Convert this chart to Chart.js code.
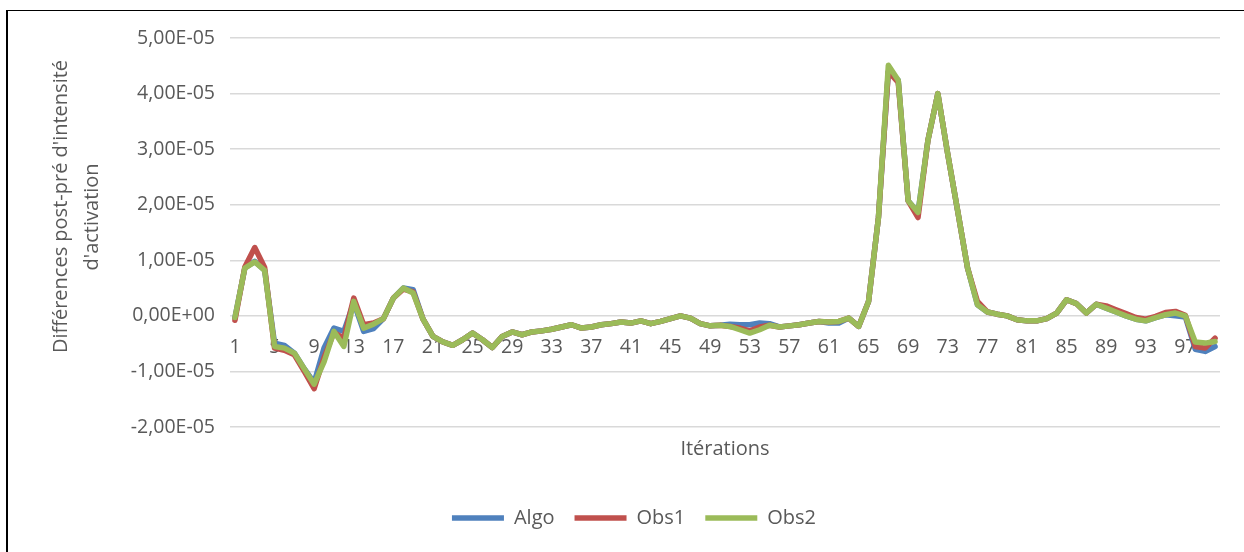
<!DOCTYPE html>
<html lang="fr">
<head>
<meta charset="UTF-8">
<title>Différences post-pré</title>
<script src="https://cdn.jsdelivr.net/npm/chart.js@4"></script>
<style>
    html, body { margin: 0; padding: 0; background: #fff; }
    #wrap { position: relative; width: 1244px; height: 552px; overflow: hidden; }
    #cadre { position: absolute; left: 6px; top: 10px; width: 1300px; height: 700px;
             border-left: 2px solid #000; border-top: 1px solid #000; }
    #zone { position: absolute; left: 0; top: 0; width: 1268px; height: 552px; }
</style>
</head>
<body>
<div id="wrap">
    <div id="cadre"></div>
    <div id="zone"><canvas id="graphe"></canvas></div>
</div>
<script>
// valeurs en unités de 1E-06
const algo = [
    -0.3, 8.6, 9.8, 8.2, -4.9, -5.3, -6.7, -9.5, -12.0, -5.8,
    -2.2, -2.8, 2.4, -2.8, -2.3, -0.5, 3.2, 5.0, 4.7, -0.6,
    -3.7, -4.7, -5.3, -4.3, -3.1, -4.3, -5.7, -3.7, -2.9, -3.4,
    -2.9, -2.7, -2.4, -2.0, -1.6, -2.2, -2.0, -1.6, -1.4, -1.1,
    -1.3, -0.9, -1.4, -1.0, -0.5, 0.0, -0.4, -1.4, -1.8, -1.7,
    -1.5, -1.6, -1.6, -1.3, -1.4, -2.0, -1.8, -1.6, -1.3, -1.0,
    -1.3, -1.3, -0.4, -1.9, 2.6, 17.7, 44.0, 42.4, 20.7, 18.6,
    31.6, 40.0, 29.1, 18.9, 8.6, 2.0, 0.7, 0.3, 0.0, -0.7,
    -0.9, -0.9, -0.5, 0.5, 2.9, 2.2, 0.5, 2.1, 1.4, 0.7,
    0.0, -0.6, -0.9, -0.3, 0.2, 0.0, -0.2, -6.0, -6.4, -5.5
];
const obs1 = [
    -0.8, 8.8, 12.3, 8.7, -5.8, -6.2, -7.0, -10.0, -13.1, -7.5,
    -3.0, -4.0, 3.2, -1.6, -1.3, -0.5, 3.2, 4.8, 4.3, -0.6,
    -3.7, -4.7, -5.3, -4.3, -3.1, -4.3, -5.7, -3.7, -2.9, -3.4,
    -2.9, -2.7, -2.4, -2.0, -1.6, -2.2, -2.0, -1.6, -1.4, -1.1,
    -1.3, -0.9, -1.4, -1.0, -0.5, 0.0, -0.4, -1.4, -1.8, -1.7,
    -1.9, -2.2, -2.7, -2.0, -1.7, -2.0, -1.8, -1.6, -1.3, -1.0,
    -1.1, -1.0, -0.4, -1.9, 2.6, 17.7, 44.0, 42.0, 20.7, 17.7,
    31.6, 40.0, 29.1, 18.9, 8.6, 2.6, 0.7, 0.3, 0.0, -0.7,
    -0.9, -0.9, -0.5, 0.5, 2.9, 2.2, 0.5, 2.1, 1.8, 1.1,
    0.4, -0.3, -0.6, -0.1, 0.6, 0.8, 0.1, -5.5, -5.8, -4.0
];
const obs2 = [
    -0.3, 8.6, 9.7, 8.2, -5.5, -5.8, -6.7, -9.5, -12.3, -8.3,
    -2.8, -5.5, 2.6, -2.2, -1.5, -0.5, 3.2, 5.0, 4.1, -0.6,
    -3.7, -4.7, -5.3, -4.3, -3.1, -4.3, -5.7, -3.7, -2.9, -3.4,
    -2.9, -2.7, -2.4, -2.0, -1.6, -2.2, -2.0, -1.6, -1.4, -1.1,
    -1.3, -0.9, -1.4, -1.0, -0.5, 0.0, -0.4, -1.4, -1.8, -1.7,
    -1.9, -2.5, -3.1, -2.5, -1.7, -2.0, -1.8, -1.6, -1.3, -1.0,
    -1.1, -1.0, -0.4, -1.9, 2.6, 17.7, 45.1, 42.4, 20.7, 18.6,
    31.6, 40.0, 29.1, 18.9, 8.6, 2.0, 0.7, 0.3, 0.0, -0.7,
    -0.9, -0.9, -0.5, 0.5, 2.9, 2.2, 0.5, 2.1, 1.4, 0.7,
    0.0, -0.6, -0.9, -0.3, 0.2, 0.5, 0.0, -4.7, -4.9, -4.6
];
const iterations = Array.from({ length: 100 }, (_, i) => String(i + 1));
const yTickLabels = ['-2,00E-05', '-1,00E-05', '0,00E+00', '1,00E-05', '2,00E-05', '3,00E-05', '4,00E-05', '5,00E-05'];

const police = 'Open Sans';
const gris = '#595959';

function serie(label, data, couleur, ordre) {
    return {
        label: label,
        data: data,
        borderColor: couleur,
        backgroundColor: couleur,
        borderWidth: 5.5,
        pointRadius: 0,
        tension: 0,
        fill: false,
        borderJoinStyle: 'round',
        borderCapStyle: 'round',
        order: ordre,
        xAxisID: 'x'
    };
}

new Chart(document.getElementById('graphe'), {
    type: 'line',
    data: {
        labels: iterations,
        datasets: [
            serie('Algo', algo, '#4F81BD', 3),
            serie('Obs1', obs1, '#C0504D', 2),
            serie('Obs2', obs2, '#9BBB59', 1)
        ]
    },
    options: {
        responsive: true,
        maintainAspectRatio: false,
        animation: false,
        layout: { padding: { left: 0, right: 0, top: 38, bottom: 14 } },
        plugins: {
            tooltip: { enabled: false },
            legend: {
                position: 'bottom',
                reverse: true,
                labels: {
                    usePointStyle: true,
                    pointStyle: 'line',
                    pointStyleWidth: 52,
                    padding: 20,
                    color: gris,
                    font: { family: police, size: 20 }
                }
            }
        },
        scales: {
            x: {
                type: 'category',
                position: 'bottom',
                offset: true,
                grid: { display: false },
                border: { display: false },
                ticks: { display: false },
                title: {
                    display: true,
                    text: 'Itérations',
                    color: gris,
                    font: { family: police, size: 20 },
                    padding: { top: 0, bottom: 27 }
                },
                afterFit: (s) => { s.height = 61; }
            },
            x2: {
                type: 'category',
                labels: iterations,
                position: { y: 0 },
                offset: true,
                grid: { display: false, drawTicks: false },
                border: { display: false },
                ticks: {
                    autoSkip: false,
                    maxRotation: 0,
                    padding: 20,
                    color: gris,
                    font: { family: police, size: 19.5 },
                    callback: (v, i) => (i % 4 === 0 ? iterations[i] : null)
                }
            },
            y: {
                min: -20,
                max: 50,
                grid: { color: '#D9D9D9', lineWidth: 1.5, drawTicks: false },
                border: { display: false },
                ticks: {
                    stepSize: 10,
                    padding: 15,
                    color: gris,
                    font: { family: police, size: 19.5 },
                    callback: (v, i) => yTickLabels[i]
                },
                title: {
                    display: true,
                    text: ['          Différences post-pré d\'intensité', '      d\'activation'],
                    color: gris,
                    font: { family: police, size: 20, lineHeight: 1.55 },
                    padding: { top: 46, bottom: 0 }
                },
                afterFit: (s) => { s.width = 230; }
            },
            // marge de droite, sans contenu
            marge: {
                type: 'linear',
                position: 'right',
                grid: { display: false },
                border: { display: false },
                ticks: { display: false },
                afterFit: (s) => { s.width = 48; }
            }
        }
    }
});
</script>
</body>
</html>
